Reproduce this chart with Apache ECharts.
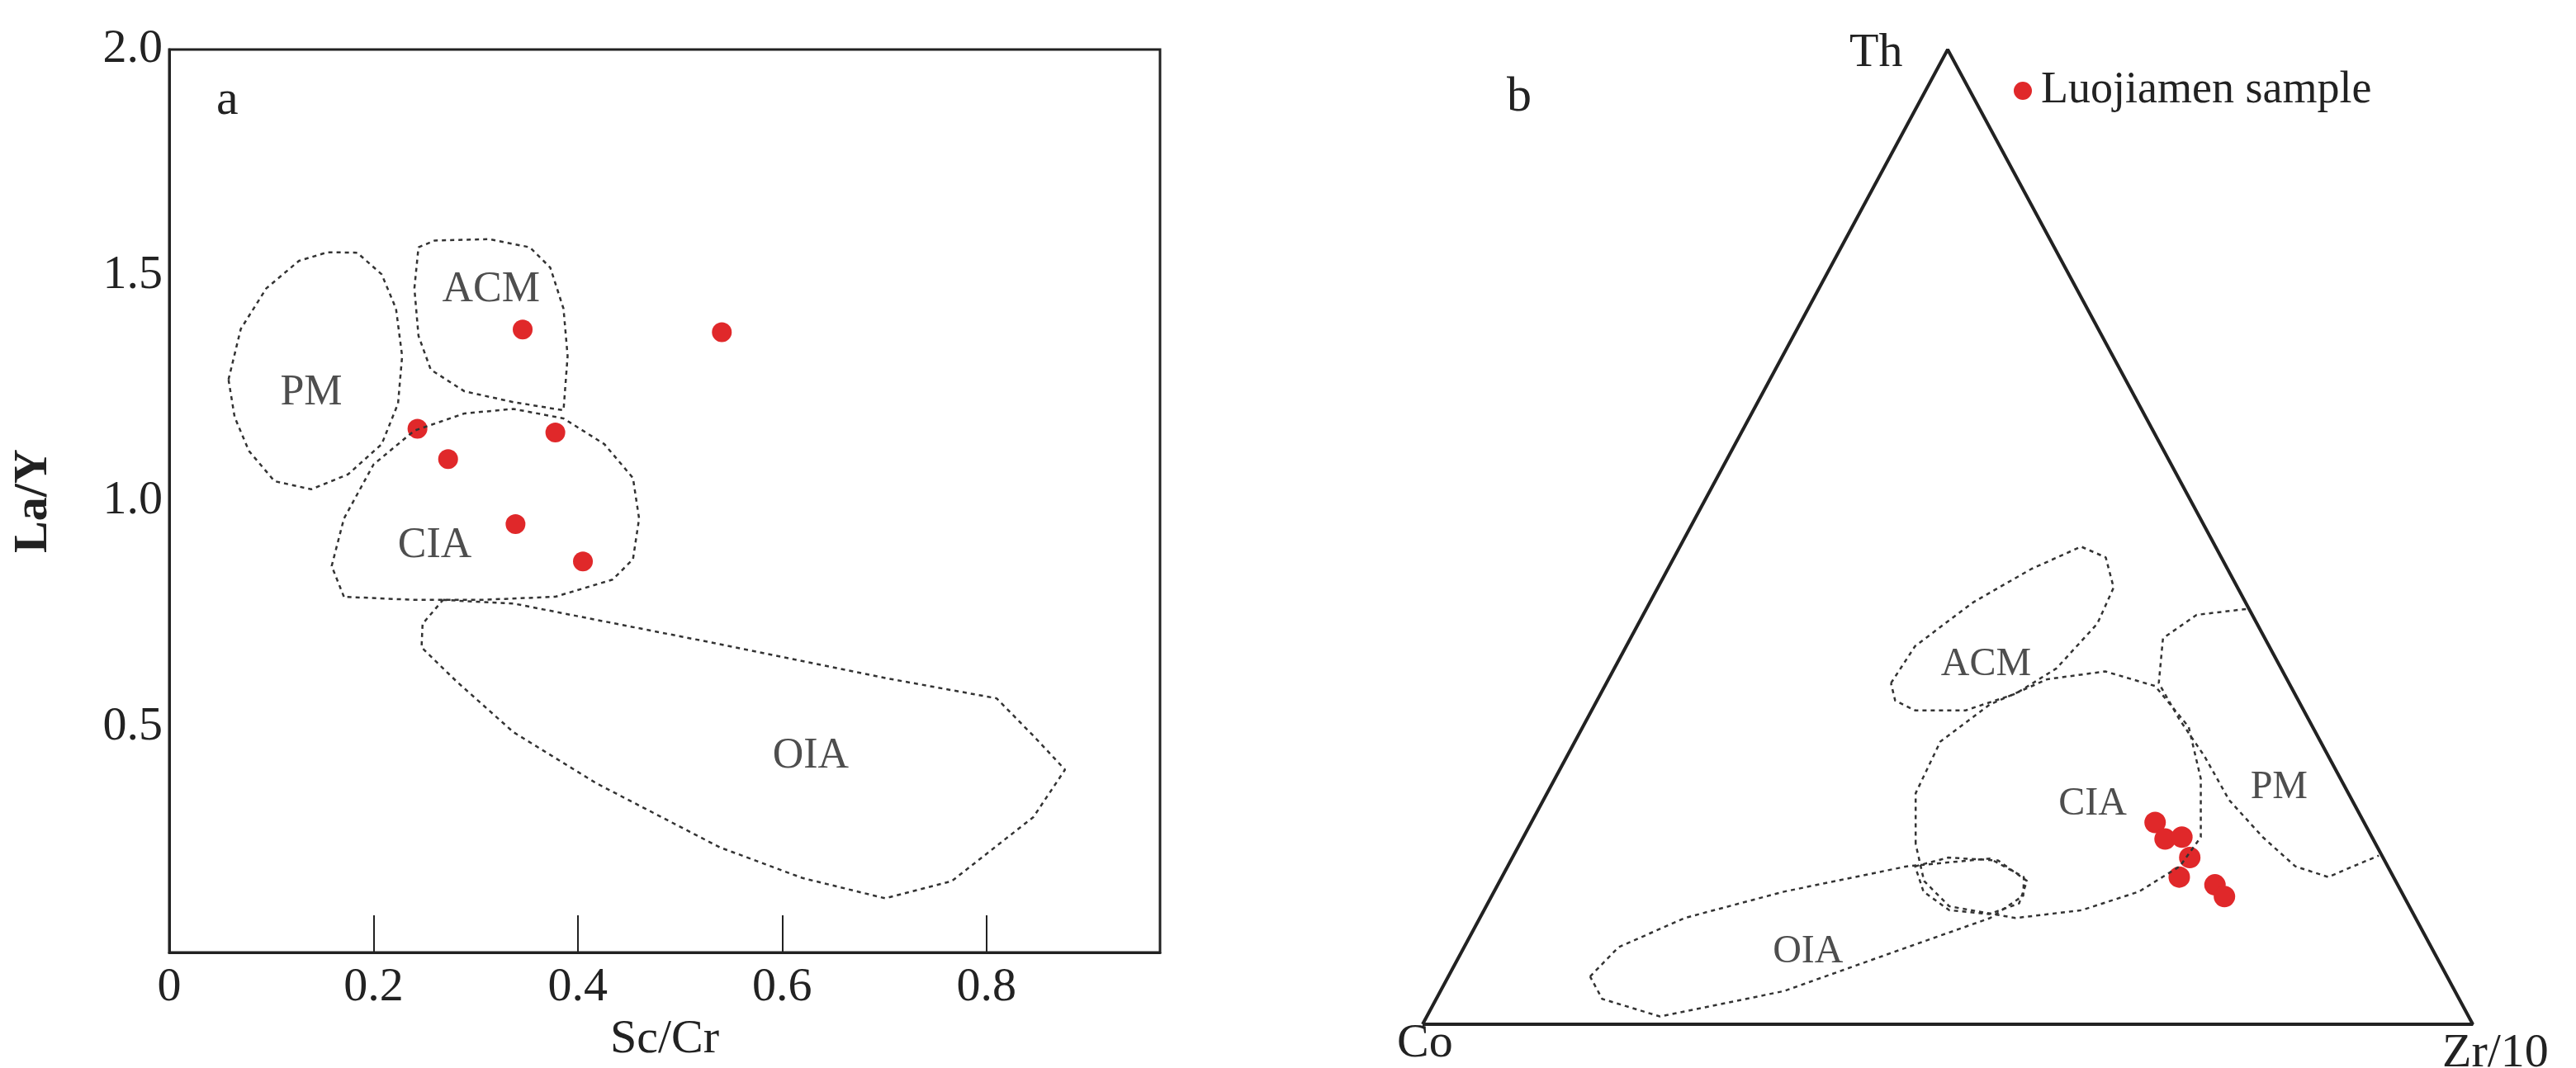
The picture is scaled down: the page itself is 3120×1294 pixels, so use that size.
<!DOCTYPE html>
<html>
<head>
<meta charset="utf-8">
<script src="https://cdn.jsdelivr.net/npm/echarts@6/dist/echarts.min.js"></script>
<style>html,body{margin:0;background:#fff}#main{width:3120px;height:1294px}</style>
</head>
<body>
<div id="main"></div>
<script>
// 图a: Sc/Cr - La/Y
const xTicksA = [0, 0.2, 0.4, 0.6, 0.8];
const yTicksA = [0.5, 1.0, 1.5, 2.0];
const samplesA = [[0.346,1.38],[0.541,1.374],[0.243,1.16],[0.378,1.152],[0.273,1.093],[0.339,0.949],[0.405,0.866]];
const regionPM_A = [[0.058,1.269],[0.070,1.381],[0.095,1.471],[0.127,1.532],[0.155,1.551],[0.184,1.550],[0.208,1.502],[0.222,1.426],[0.228,1.321],[0.224,1.216],[0.208,1.126],[0.175,1.059],[0.139,1.026],[0.103,1.044],[0.078,1.111],[0.064,1.186]];
const regionACM_A = [[0.240,1.471],[0.244,1.562],[0.260,1.577],[0.313,1.580],[0.353,1.562],[0.373,1.517],[0.386,1.426],[0.390,1.321],[0.386,1.201],[0.337,1.219],[0.289,1.243],[0.256,1.291],[0.244,1.366]];
const regionCIA_A = [[0.171,0.788],[0.159,0.856],[0.171,0.961],[0.200,1.081],[0.240,1.156],[0.289,1.194],[0.337,1.204],[0.386,1.183],[0.426,1.126],[0.454,1.051],[0.460,0.961],[0.454,0.871],[0.434,0.826],[0.378,0.788],[0.305,0.781],[0.240,0.781]];
const regionOIA_A = [[0.268,0.781],[0.337,0.773],[0.539,0.683],[0.701,0.608],[0.810,0.563],[0.846,0.480],[0.877,0.405],[0.846,0.300],[0.766,0.158],[0.701,0.120],[0.620,0.165],[0.539,0.233],[0.418,0.375],[0.337,0.488],[0.281,0.601],[0.247,0.676],[0.248,0.728]];
const labelsA = [['PM',0.139,1.239],['ACM',0.315,1.468],['CIA',0.260,0.901],['OIA',0.628,0.435]];

// 图b: Th-Co-Zr/10 三角图, 每点 [Th, Zr/10]
const samplesB = [[0.207,0.594],[0.190,0.612],[0.192,0.627],[0.171,0.645],[0.151,0.645],[0.143,0.683],[0.131,0.698]];
const regionACM_B = [[0.350,0.271],[0.388,0.275],[0.433,0.308],[0.467,0.346],[0.490,0.382],[0.479,0.411],[0.448,0.434],[0.411,0.437],[0.365,0.421],[0.339,0.395],[0.322,0.356],[0.322,0.308],[0.332,0.284]];
const regionCIA_B = [[0.185,0.377],[0.237,0.351],[0.290,0.348],[0.328,0.376],[0.354,0.418],[0.362,0.469],[0.347,0.524],[0.305,0.577],[0.252,0.615],[0.192,0.645],[0.162,0.640],[0.136,0.614],[0.117,0.569],[0.109,0.510],[0.121,0.441],[0.147,0.404]];
const regionCIA2_B = [[0.162,0.388],[0.171,0.415],[0.168,0.464],[0.147,0.502],[0.124,0.506],[0.113,0.483],[0.117,0.443],[0.136,0.409]];
const regionPM_B = [[0.426,0.571],[0.420,0.527],[0.396,0.507],[0.350,0.526],[0.313,0.564],[0.275,0.607],[0.230,0.653],[0.192,0.704],[0.162,0.750],[0.151,0.787],[0.162,0.805],[0.173,0.824]];
const regionOIA_B = [[0.049,0.135],[0.079,0.147],[0.109,0.195],[0.136,0.276],[0.162,0.380],[0.170,0.455],[0.151,0.497],[0.132,0.506],[0.109,0.486],[0.079,0.422],[0.034,0.327],[0.008,0.222],[0.026,0.158]];
const triangleB = [[0,0],[1,0],[0,1]];
const labelsB = [['ACM',0.369,0.352],['CIA',0.226,0.525],['PM',0.243,0.694],['OIA',0.074,0.330]];

const tern = p => [p[1] + p[0] / 2, p[0]];
const close = a => a.concat([a[0]]);
const font = 'Liberation Serif';
const red = '#e0282a';

function outline(data, xi, yi) {
  return { type: 'line', xAxisIndex: xi, yAxisIndex: yi, data: data, symbol: 'none', silent: true,
    lineStyle: { color: '#333', width: 2.5, type: [5, 5] } };
}
function labels(list, xi, yi, size) {
  return { type: 'scatter', xAxisIndex: xi, yAxisIndex: yi, symbolSize: 0, silent: true,
    data: list.map(l => ({ value: [l[1], l[2]], name: l[0] })),
    label: { show: true, formatter: '{b}', position: 'inside', color: '#222', fontFamily: font, fontSize: size } };
}

const chart = echarts.init(document.getElementById('main'));
chart.setOption({
  backgroundColor: '#fff',
  animation: false,
  grid: [
    { left: 205, top: 60, width: 1200, height: 1172, show: true, borderColor: '#222', borderWidth: 3 },
    { left: 1723, top: 60, width: 1272, height: 1181 }
  ],
  xAxis: [
    { gridIndex: 0, type: 'value', min: 0, max: 0.97, interval: 0.2,
      name: 'Sc/Cr', nameLocation: 'middle', nameGap: 76,
      nameTextStyle: { fontFamily: font, fontSize: 58, color: '#222' },
      axisLine: { lineStyle: { color: '#222', width: 3 } },
      axisTick: { inside: true, length: 45, lineStyle: { color: '#222', width: 2 } },
      axisLabel: { fontFamily: font, fontSize: 58, color: '#222', margin: 14,
        formatter: v => v === 0 ? '0' : (v > 0.9 ? '' : v.toFixed(1)) },
      splitLine: { show: false } },
    { gridIndex: 1, type: 'value', min: 0, max: 1, show: false }
  ],
  yAxis: [
    { gridIndex: 0, type: 'value', min: 0, max: 2, interval: 0.5,
      name: 'La/Y', nameLocation: 'middle', nameGap: 135,
      nameTextStyle: { fontFamily: font, fontSize: 58, color: '#222', fontWeight: 'bold' },
      axisLine: { lineStyle: { color: '#222', width: 3 } },
      axisTick: { show: false },
      axisLabel: { fontFamily: font, fontSize: 58, color: '#222', margin: 8,
        formatter: v => v === 0 ? '' : v.toFixed(1) },
      splitLine: { show: false } },
    { gridIndex: 1, type: 'value', min: 0, max: 1, show: false }
  ],
  legend: {
    data: ['Luojiamen sample'], left: 2434, top: 78, itemWidth: 22, itemHeight: 22, itemGap: 10,
    textStyle: { fontFamily: font, fontSize: 54, color: '#222', padding: [0, 0, 0, 6] }
  },
  graphic: [
    { type: 'text', left: 262, top: 92, style: { text: 'a', fontFamily: font, fontSize: 60, fill: '#222' } },
    { type: 'text', left: 1825, top: 88, style: { text: 'b', fontFamily: font, fontSize: 60, fill: '#222' } },
    { type: 'text', left: 2240, top: 36, style: { text: 'Th', fontFamily: font, fontSize: 58, fill: '#222' } },
    { type: 'text', left: 1692, top: 1236, style: { text: 'Co', fontFamily: font, fontSize: 58, fill: '#222' } },
    { type: 'text', left: 2958, top: 1248, style: { text: 'Zr/10', fontFamily: font, fontSize: 58, fill: '#222' } }
  ],
  series: [
    outline(close(regionPM_A), 0, 0),
    outline(close(regionACM_A), 0, 0),
    outline(close(regionCIA_A), 0, 0),
    outline(close(regionOIA_A), 0, 0),
    labels(labelsA, 0, 0, 52),
    { type: 'scatter', name: 'Luojiamen sample', xAxisIndex: 0, yAxisIndex: 0, data: samplesA,
      symbolSize: 24, itemStyle: { color: red, opacity: 1 } },
    { type: 'line', xAxisIndex: 1, yAxisIndex: 1, data: close(triangleB).map(tern), symbol: 'none',
      silent: true, lineStyle: { color: '#222', width: 4 } },
    outline(close(regionACM_B).map(tern), 1, 1),
    outline(close(regionCIA_B).map(tern), 1, 1),
    outline(close(regionCIA2_B).map(tern), 1, 1),
    outline(regionPM_B.map(tern), 1, 1),
    outline(close(regionOIA_B).map(tern), 1, 1),
    { type: 'scatter', xAxisIndex: 1, yAxisIndex: 1, symbolSize: 0, silent: true,
      data: labelsB.map(l => ({ value: tern([l[1], l[2]]), name: l[0] })),
      label: { show: true, formatter: '{b}', position: 'inside', color: '#222', fontFamily: font, fontSize: 48 } },
    { type: 'scatter', name: 'Luojiamen sample', xAxisIndex: 1, yAxisIndex: 1, data: samplesB.map(tern),
      symbolSize: 26, itemStyle: { color: red, opacity: 1 } }
  ]
});
</script>
</body>
</html>
